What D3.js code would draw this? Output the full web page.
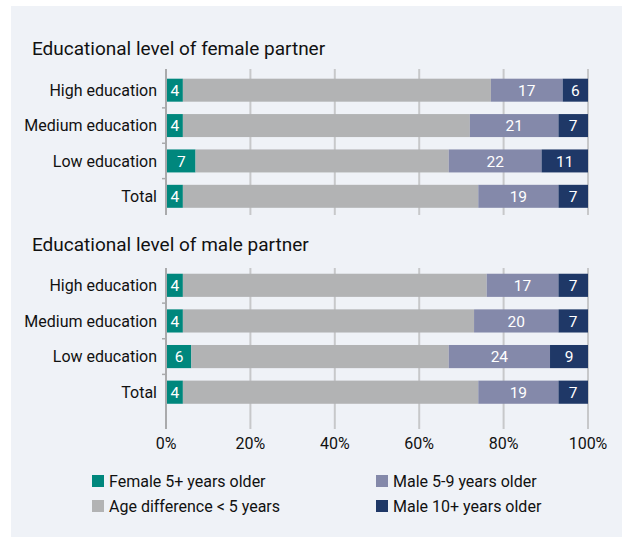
<!DOCTYPE html>
<html>
<head>
<meta charset="utf-8">
<script src="https://cdn.jsdelivr.net/npm/d3@7"></script>
<style>
  body { margin: 0; background: #fff; }
  text { font-family: Roboto, "Noto Sans", sans-serif; fill: #111; }
  .bar-label { fill: #fff; font-size: 15.5px; }
</style>
</head>
<body>
<div id="chart"></div>
<script>
// Categories, series and ticks
const categories = ["High education", "Medium education", "Low education", "Total"];
const seriesNames = ["Female 5+ years older", "Age difference < 5 years", "Male 5-9 years older", "Male 10+ years older"];
const seriesColors = ["#00877d", "#b2b3b4", "#8489aa", "#1f3867"];
const panelTitles = ["Educational level of female partner", "Educational level of male partner"];

// values per panel, one array per series (same order as categories)
const femaleFemaleOlder = [4, 4, 7, 4];
const femaleSimilar     = [73, 68, 60, 70];
const femaleMale5to9    = [17, 21, 22, 19];
const femaleMale10      = [6, 7, 11, 7];

const maleFemaleOlder = [4, 4, 6, 4];
const maleSimilar     = [72, 69, 61, 70];
const maleMale5to9    = [17, 20, 24, 19];
const maleMale10      = [7, 7, 9, 7];

const tickValues = [0, 20, 40, 60, 80, 100];

const panels = [
  [femaleFemaleOlder, femaleSimilar, femaleMale5to9, femaleMale10],
  [maleFemaleOlder, maleSimilar, maleMale5to9, maleMale10]
];

const width = 622, height = 537;
const svg = d3.select('#chart')
  .append('svg')
    .attr('width', width)
    .attr('height', height);

// panel background
svg.append('rect')
  .attr('x', 11).attr('y', 6)
  .attr('width', width - 11).attr('height', height - 6)
  .attr('fill', '#eff2f7');

const x = d3.scaleLinear().domain([0, 100]).range([166, 588]);

// vertical layout of each panel: title baseline, band range, grid extent
const layout = [
  { title: 55, band: [72.5, 214], grid: [69, 215] },
  { title: 251, band: [267.5, 410], grid: [268, 429] }
];

panels.forEach((series, p) => {
  const L = layout[p];
  const g = svg.append('g');

  g.append('text')
    .attr('x', 32)
    .attr('y', L.title)
    .attr('font-size', 19)
    .text(panelTitles[p]);

  const y = d3.scaleBand()
    .domain(categories)
    .range(L.band)
    .paddingInner(0.35)
    .paddingOuter(0.175);

  // gridlines
  g.selectAll('.grid')
    .data(tickValues.slice(1))
    .join('line')
      .attr('x1', d => x(d)).attr('x2', d => x(d))
      .attr('y1', L.grid[0]).attr('y2', L.grid[1])
      .attr('stroke', '#c7c8ca')
      .attr('stroke-width', 2);

  // y axis line + small ticks between bands
  g.append('line')
    .attr('x1', x(0)).attr('x2', x(0))
    .attr('y1', L.grid[0]).attr('y2', L.grid[1])
    .attr('stroke', '#a9aaac')
    .attr('stroke-width', 2);

  g.selectAll('.ytick')
    .data(categories.slice(1))
    .join('line')
      .attr('x1', x(0) - 4).attr('x2', x(0))
      .attr('y1', d => y(d) - y.step() * y.paddingInner() / 2)
      .attr('y2', d => y(d) - y.step() * y.paddingInner() / 2)
      .attr('stroke', '#a9aaac')
      .attr('stroke-width', 1.5);

  // stacked data
  const rows = categories.map((c, i) => {
    let acc = 0;
    return series.map((s, k) => {
      const seg = { cat: c, k, v: s[i], x0: acc, x1: acc + s[i] };
      acc += s[i];
      return seg;
    });
  }).flat();

  g.selectAll('.seg')
    .data(rows)
    .join('rect')
      .attr('x', d => x(d.x0) + (d.k === 0 ? 1 : 0))
      .attr('y', d => y(d.cat))
      .attr('width', d => x(d.x1) - x(d.x0) - (d.k === 0 ? 1 : 0))
      .attr('height', y.bandwidth())
      .attr('fill', d => seriesColors[d.k]);

  g.selectAll('.bar-label')
    .data(rows.filter(d => d.k !== 1))
    .join('text')
      .attr('class', 'bar-label')
      .attr('x', d => (x(d.x0) + x(d.x1)) / 2 + (d.k === 0 ? 0.5 : 0))
      .attr('y', d => y(d.cat) + y.bandwidth() / 2)
      .attr('dy', '0.36em')
      .attr('text-anchor', 'middle')
      .text(d => d.v);

  // category labels
  g.selectAll('.cat')
    .data(categories)
    .join('text')
      .attr('x', 157)
      .attr('y', d => y(d) + y.bandwidth() / 2)
      .attr('dy', '0.36em')
      .attr('text-anchor', 'end')
      .attr('font-size', 16)
      .text(d => d);
});

// x tick labels
svg.selectAll('.xtick')
  .data(tickValues)
  .join('text')
    .attr('x', d => x(d))
    .attr('y', 443)
    .attr('dy', '0.36em')
    .attr('text-anchor', 'middle')
    .attr('font-size', 16)
    .text(d => d + '%');

// legend, two columns
const legendPos = [[92, 481], [92, 506], [376, 481], [376, 506]];
const legend = svg.selectAll('.legend')
  .data(seriesNames)
  .join('g')
    .attr('transform', (d, i) => `translate(${legendPos[i][0]},${legendPos[i][1]})`);

legend.append('rect')
  .attr('x', 0).attr('y', -6)
  .attr('width', 12).attr('height', 12)
  .attr('fill', (d, i) => seriesColors[i]);

legend.append('text')
  .attr('x', 17)
  .attr('dy', '0.36em')
  .attr('font-size', 16)
  .text(d => d);
</script>
</body>
</html>
